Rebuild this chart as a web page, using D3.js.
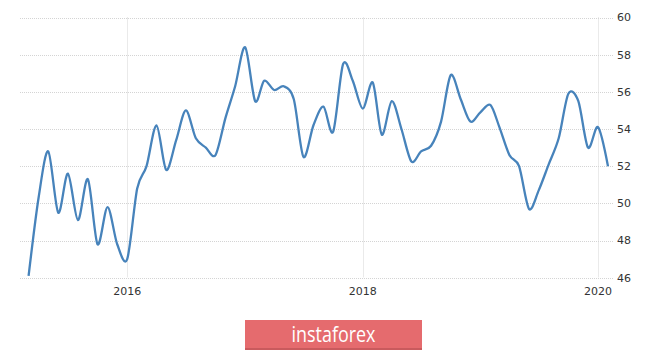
<!DOCTYPE html>
<html>
<head>
<meta charset="utf-8">
<script src="https://cdn.jsdelivr.net/npm/d3@7"></script>
<style>
  body { margin: 0; background: #fff; }
  svg { display: block; font-family: "DejaVu Sans", sans-serif; }
</style>
</head>
<body>
<div class="chart"></div>
<script>
// monthly readings, Mar 2015 .. Feb 2020
var startMonth = "2015-03";
var values = [
  46.1, 50.3, 52.8, 49.5, 51.6, 49.1, 51.3, 47.8, 49.8, 47.8,
  47.0, 50.8, 52.0, 54.2, 51.8, 53.4, 55.0, 53.5, 53.0, 52.6, 54.6, 56.3,
  58.4, 55.5, 56.6, 56.1, 56.3, 55.6, 52.5, 54.2, 55.2, 53.85, 57.5, 56.6,
  55.1, 56.5, 53.7, 55.5, 54.0, 52.25, 52.8, 53.1, 54.4, 56.9, 55.6, 54.4,
  54.9, 55.3, 54.1, 52.6, 52.0, 49.7, 50.7, 52.1, 53.5, 55.9, 55.5, 53.0,
  54.1, 52.0
];
var yTicks = [46, 48, 50, 52, 54, 56, 58, 60];
var xTickYears = ["2016", "2018", "2020"];
var brand = "instaforex";

var width = 665, height = 351;
var parseMonth = d3.timeParse("%Y-%m");
var parseYear = d3.timeParse("%Y");
var t0 = parseMonth(startMonth);
var data = values.map(function(v, i) {
  return { date: d3.timeMonth.offset(t0, i), value: v };
});

var svg = d3.select(".chart").append("svg")
  .attr("width", width).attr("height", height);

var x = d3.scaleTime()
  .domain([parseYear("2016"), parseYear("2020")])
  .range([127.2, 598]);
var y = d3.scaleLinear().domain([46, 60]).range([277.7, 17.5]);

var gridLeft = 20, gridRight = 613;

// horizontal grid
svg.append("g").selectAll("line")
  .data(yTicks).enter().append("line")
  .attr("x1", gridLeft).attr("x2", gridRight)
  .attr("y1", function(d) { return Math.round(y(d)) + 0.5; })
  .attr("y2", function(d) { return Math.round(y(d)) + 0.5; })
  .attr("stroke", "#d4d4d4").attr("stroke-width", 1)
  .attr("stroke-dasharray", "1,1");

// vertical grid
svg.append("g").selectAll("line")
  .data(xTickYears).enter().append("line")
  .attr("x1", function(d) { return Math.round(x(parseYear(d))) + 0.5; })
  .attr("x2", function(d) { return Math.round(x(parseYear(d))) + 0.5; })
  .attr("y1", y(60)).attr("y2", y(46))
  .attr("stroke", "#d4d4d4").attr("stroke-width", 1)
  .attr("stroke-dasharray", "1,1");

// y labels
svg.append("g").selectAll("text")
  .data(yTicks).enter().append("text")
  .attr("x", 617)
  .attr("y", function(d) { return y(d); })
  .attr("dy", "0.35em")
  .attr("font-size", 11)
  .attr("fill", "#333")
  .text(function(d) { return d; });

// x labels
svg.append("g").selectAll("text")
  .data(xTickYears).enter().append("text")
  .attr("x", function(d) { return x(parseYear(d)); })
  .attr("y", 295)
  .attr("text-anchor", "middle")
  .attr("font-size", 11)
  .attr("fill", "#333")
  .text(function(d) { return d; });

// the line
var line = d3.line()
  .x(function(d) { return x(d.date); })
  .y(function(d) { return y(d.value); })
  .curve(d3.curveCardinal.tension(0.1));

svg.append("path")
  .datum(data)
  .attr("d", line)
  .attr("fill", "none")
  .attr("stroke", "#4783bb")
  .attr("stroke-width", 2.3)
  .attr("stroke-linejoin", "round");

// brand badge
var badge = svg.append("g").attr("transform", "translate(245,320)");
badge.append("rect")
  .attr("width", 177).attr("height", 30)
  .attr("fill", "#e56b6e");
badge.append("rect")
  .attr("y", 28).attr("width", 177).attr("height", 2)
  .attr("fill", "#c95a5d");
badge.append("text")
  .attr("x", 88.5).attr("y", 22)
  .attr("text-anchor", "middle")
  .attr("font-family", "'Open Sans', sans-serif")
  .attr("font-size", 21)
  .attr("textLength", 84)
  .attr("lengthAdjust", "spacingAndGlyphs")
  .attr("fill", "#fff")
  .text(brand);
</script>
</body>
</html>
